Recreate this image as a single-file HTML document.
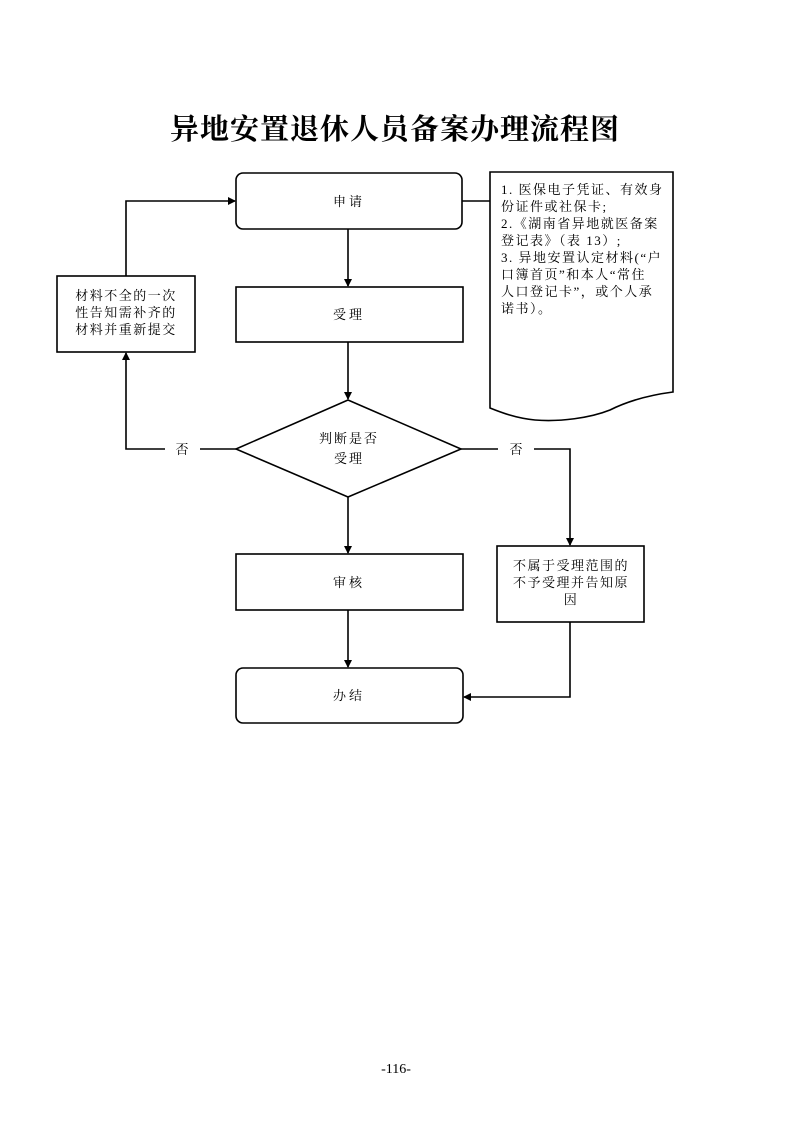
<!DOCTYPE html>
<html><head><meta charset="utf-8"><style>
html,body{margin:0;padding:0;background:#fff;}
svg{display:block;}
text{font-family:"Liberation Serif","Noto Serif CJK SC","Noto Sans CJK SC",serif;fill:#000;}
</style></head><body>
<svg width="793" height="1122" viewBox="0 0 793 1122" xmlns="http://www.w3.org/2000/svg">
<defs><marker id="a" markerWidth="8" markerHeight="8" refX="7" refY="4" orient="auto" markerUnits="userSpaceOnUse"><path d="M0,0 L8,4 L0,8 Z" fill="#000"/></marker></defs>
<text x="395" y="139" font-size="29" font-weight="bold" text-anchor="middle" style="font-family:'Noto Serif CJK SC',serif;letter-spacing:1px">异地安置退休人员备案办理流程图</text>
<g fill="none" stroke="#000" stroke-width="1.6">
<rect x="236" y="173" width="226" height="56" rx="7"/>
<rect x="236" y="287" width="227" height="55"/>
<polygon points="236,449 348,400 461,449 348,497"/>
<rect x="236" y="554" width="227" height="56"/>
<rect x="236" y="668" width="227" height="55" rx="7"/>
<rect x="57" y="276" width="138" height="76"/>
<rect x="497" y="546" width="147" height="76"/>
<path d="M490,172 L673,172 L673,392 C650,395 630,400 610,410 C590,418 560,422 535,420 C515,418 500,412 490,408 Z"/>
<line x1="462" y1="201" x2="490" y2="201"/>
<line x1="348" y1="229" x2="348" y2="286" marker-end="url(#a)"/>
<line x1="348" y1="342" x2="348" y2="399" marker-end="url(#a)"/>
<line x1="348" y1="497" x2="348" y2="553" marker-end="url(#a)"/>
<line x1="348" y1="610" x2="348" y2="667" marker-end="url(#a)"/>
<polyline points="236,449 200,449"/>
<polyline points="165,449 126,449 126,353" marker-end="url(#a)"/>
<polyline points="126,276 126,201 235,201" marker-end="url(#a)"/>
<polyline points="461,449 498,449"/>
<polyline points="534,449 570,449 570,545" marker-end="url(#a)"/>
<polyline points="570,622 570,697 464,697" marker-end="url(#a)"/>
</g>
<g font-size="13" style="font-family:'Noto Serif CJK SC','Noto Sans CJK SC',serif">
<text x="349" y="206" text-anchor="middle" style="letter-spacing:3px">申请</text>
<text x="349" y="319" text-anchor="middle" style="letter-spacing:3px">受理</text>
<text x="349" y="443" text-anchor="middle" style="letter-spacing:2px">判断是否</text>
<text x="349" y="463" text-anchor="middle" style="letter-spacing:2px">受理</text>
<text x="349" y="587" text-anchor="middle" style="letter-spacing:3px">审核</text>
<text x="349" y="700" text-anchor="middle" style="letter-spacing:3px">办结</text>
<text x="182" y="454" text-anchor="middle">否</text>
<text x="516" y="454" text-anchor="middle">否</text>
<g style="letter-spacing:1.5px">
<text x="126" y="300" text-anchor="middle">材料不全的一次</text>
<text x="126" y="317" text-anchor="middle">性告知需补齐的</text>
<text x="126" y="334" text-anchor="middle">材料并重新提交</text>
<text x="571" y="570" text-anchor="middle">不属于受理范围的</text>
<text x="571" y="587" text-anchor="middle">不予受理并告知原</text>
<text x="571" y="604" text-anchor="middle">因</text>
<text x="501" y="194">1. 医保电子凭证、有效身</text>
<text x="501" y="211">份证件或社保卡;</text>
<text x="501" y="228">2.《湖南省异地就医备案</text>
<text x="501" y="245">登记表》（表 13）;</text>
<text x="501" y="262">3. 异地安置认定材料(“户</text>
<text x="501" y="279">口簿首页”和本人“常住</text>
<text x="501" y="296">人口登记卡”，或个人承</text>
<text x="501" y="313">诺书）。</text>
</g>
</g>
<text x="396" y="1073" font-size="14" text-anchor="middle">-116-</text>
</svg>
</body></html>
